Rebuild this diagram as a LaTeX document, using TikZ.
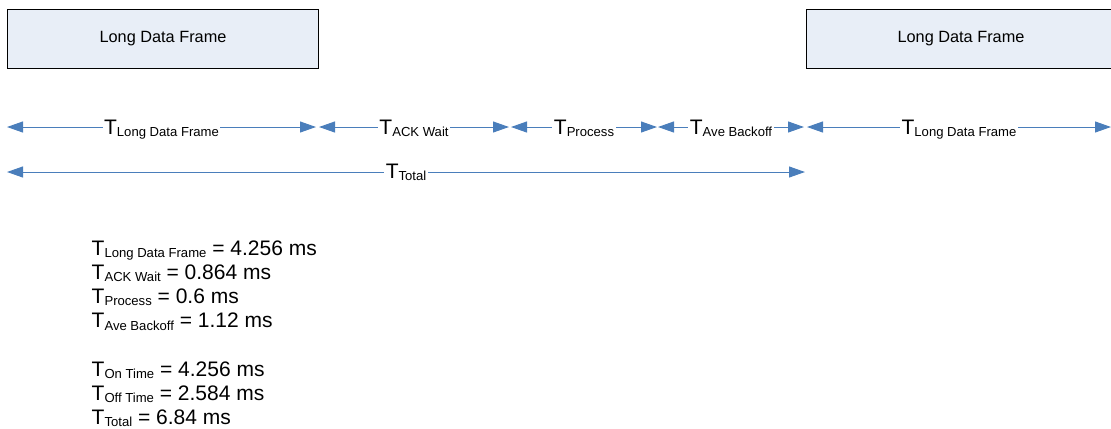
\documentclass[tikz,border=0pt]{standalone}
\usepackage{fontspec}
\setmainfont{Liberation Sans}
\usepackage{tikz}
\usetikzlibrary{arrows.meta}
\definecolor{frameFill}{RGB}{232,238,247}
\definecolor{spanBlue}{RGB}{74,126,187}
\def\lineColor{spanBlue}
\newcommand{\tlabel}[1]{T\raisebox{-2.5bp}{\fontsize{13.1bp}{15bp}\selectfont #1}}

\begin{document}
\begin{tikzpicture}[x=1bp, y=-1bp,
	frame/.style={draw=black, fill=frameFill, line width=1bp, anchor=north west, inner sep=0pt,
		minimum height=59bp, font=\fontsize{16.3bp}{19bp}\selectfont},
	span/.style={draw=\lineColor, line width=1bp,
		{Triangle[length=16bp, width=11bp]}-{Triangle[length=16bp, width=11bp]}},
	spanlabel/.style={fill=white, inner xsep=1.5bp, inner ysep=0pt, anchor=base, yshift=-7bp,
		font=\fontsize{21bp}{24bp}\selectfont}]
	\useasboundingbox (0,0) rectangle (1111,428);
	\clip (0,0) rectangle (1111,428);

	\node[frame, minimum width=311bp] (frameA) at (7,9) {Long Data Frame};
	\node[frame, minimum width=309bp] (frameB) at (806,9) {Long Data Frame};

	\foreach \name/\x in {a/7, b/316, c/319, d/509, e/511, f/657, g/658, h/804, i/807, j/1111} {
		\coordinate (\name) at (\x,127);
	}
	\coordinate (t0) at (7,172);
	\coordinate (t1) at (805,172);

	\draw[span] (a) -- (b) node[midway, spanlabel] (lblA) {\tlabel{Long Data Frame}};
	\draw[span] (c) -- (d) node[midway, spanlabel] (lblB) {\tlabel{ACK Wait}};
	\draw[span] (e) -- (f) node[midway, spanlabel] (lblC) {\tlabel{Process}};
	\draw[span] (g) -- (h) node[midway, spanlabel] (lblD) {\tlabel{Ave Backoff}};
	\draw[span] (i) -- (j) node[midway, spanlabel] (lblE) {\tlabel{Long Data Frame}};
	\draw[span] (t0) -- (t1) node[midway, spanlabel, yshift=1bp] (lblT) {\tlabel{Total}};

	\foreach \sub/\val/\y [count=\i] in {Long Data Frame/4.256/255, ACK Wait/0.864/279.2, Process/0.6/303.4,
		Ave Backoff/1.12/327.6, On Time/4.256/376, Off Time/2.584/400.2, Total/6.84/424.4} {
		\node[anchor=base west, inner sep=0pt, font=\fontsize{21bp}{24bp}\selectfont] (sum\i) at (91.5,\y)
			{\tlabel{\sub} = \val\ ms};
	}
\end{tikzpicture}
\end{document}
